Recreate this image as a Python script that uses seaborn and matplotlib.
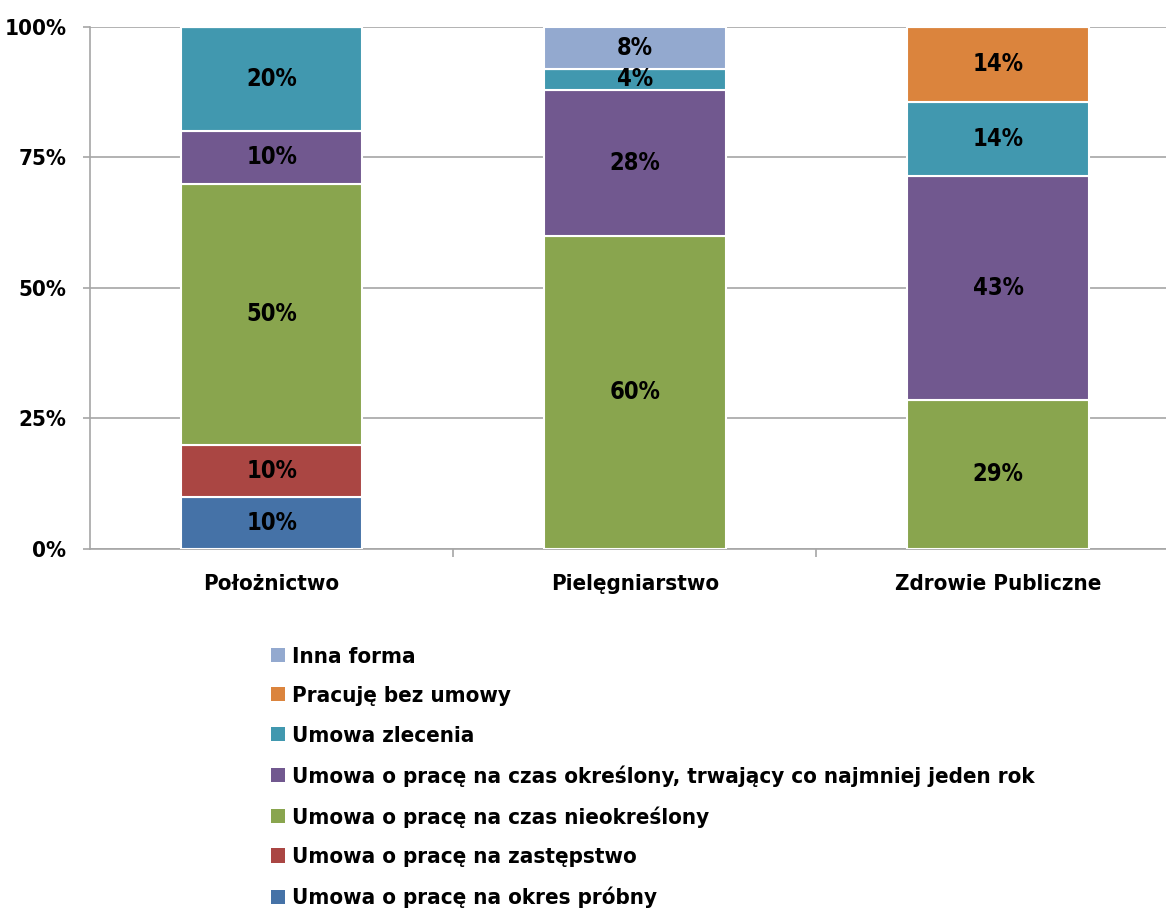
import numpy as np
import pandas as pd
import seaborn as sns
import matplotlib.pyplot as plt
from matplotlib.patches import Patch

# Categories and series (shares in %)
categories = ["Położnictwo", "Pielęgniarstwo", "Zdrowie Publiczne"]
series_names = [
    "Umowa o pracę na okres próbny",
    "Umowa o pracę na zastępstwo",
    "Umowa o pracę na czas nieokreślony",
    "Umowa o pracę na czas określony, trwający co najmniej jeden rok",
    "Umowa zlecenia",
    "Pracuję bez umowy",
    "Inna forma",
]
okres_probny = [10, 0, 0]
zastepstwo = [10, 0, 0]
nieokreslony = [50, 60, 28.6]
okreslony = [10, 28, 42.8]
zlecenia = [20, 4, 14.3]
bez_umowy = [0, 0, 14.3]
inna_forma = [0, 8, 0]
series_values = [okres_probny, zastepstwo, nieokreslony, okreslony,
                 zlecenia, bez_umowy, inna_forma]
colors = ["#4572A7", "#AA4643", "#89A54E", "#71588F",
          "#4198AF", "#DB843D", "#93A9CF"]

sns.set_style("white")
plt.rcParams["font.family"] = ["DejaVu Sans"]
plt.rcParams["font.stretch"] = "condensed"
plt.rcParams["font.weight"] = "bold"
plt.rcParams["text.color"] = "black"
plt.rcParams["xtick.color"] = "black"
plt.rcParams["ytick.color"] = "black"

FS = 16

fig = plt.figure(figsize=(11.66, 9.11), dpi=100)
ax = fig.add_axes([0.0772, 0.3974, 1.0116 - 0.0772, 0.9704 - 0.3974])

bottom = np.zeros(len(categories))
for name, vals, col in zip(series_names, series_values, colors):
    vals = np.array(vals, dtype=float)
    df = pd.DataFrame({"cat": categories, "val": vals})
    sns.barplot(data=df, x="cat", y="val", order=categories, color=col,
                width=0.5, bottom=bottom, edgecolor="white", linewidth=1.5,
                saturation=1, ax=ax, zorder=3)
    for i, v in enumerate(vals):
        if v > 0:
            ax.text(i, bottom[i] + v / 2, f"{v:.0f}%", ha="center", va="center",
                    fontsize=FS + 1, fontweight="bold", color="black", zorder=4)
    bottom = bottom + vals

ax.set_xlim(-0.5, 2.5)
ax.set_ylim(0, 100)
ax.set_yticks([0, 25, 50, 75, 100])
ax.set_yticklabels(["0%", "25%", "50%", "75%", "100%"])
ax.set_xlabel("")
ax.set_ylabel("")
ax.yaxis.grid(True, color="#A6A6A6", linewidth=1.2, zorder=0)
ax.set_axisbelow(True)

for s in ["top", "right"]:
    ax.spines[s].set_visible(False)
for s in ["left", "bottom"]:
    ax.spines[s].set_color("#A6A6A6")
    ax.spines[s].set_linewidth(1.2)

ax.tick_params(axis="y", length=5, width=1.2, color="#A6A6A6", labelcolor="black",
               pad=12, labelsize=FS, left=True)
ax.tick_params(axis="x", which="major", length=0, pad=18, labelsize=FS,
               labelcolor="black")
ax.set_xticks([0.5, 1.5], minor=True)
ax.tick_params(axis="x", which="minor", length=6, width=1.2, color="#A6A6A6",
               bottom=True)
for lbl in ax.get_xticklabels() + ax.get_yticklabels():
    lbl.set_fontweight("bold")

handles = [Patch(facecolor=c, edgecolor="none", label=n)
           for n, c in zip(series_names, colors)][::-1]
leg = fig.legend(handles=handles, loc="upper left", bbox_to_anchor=(0.225, 0.3),
                 frameon=False, fontsize=FS, handlelength=0.6, handleheight=0.6,
                 handletextpad=0.35, labelspacing=0.88, borderaxespad=0)
for t in leg.get_texts():
    t.set_color("black")

fig.savefig("out.png", dpi=100)
